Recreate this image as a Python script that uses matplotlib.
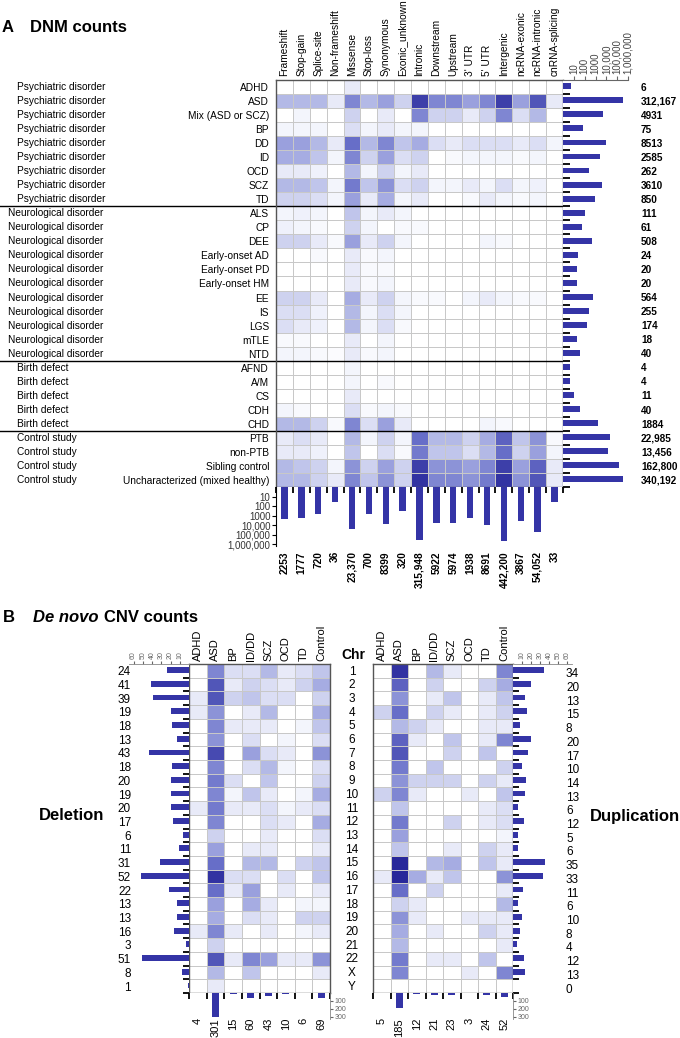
import numpy as np
import matplotlib
matplotlib.use("Agg")
import matplotlib.pyplot as plt
from matplotlib.colors import LinearSegmentedColormap
from matplotlib.transforms import blended_transform_factory as blend

plt.rcParams['font.family'] = ['Liberation Sans', 'DejaVu Sans']

# ---------------- panel A data ----------------
dnm_types = ["Frameshift", "Stop-gain", "Splice-site", "Non-frameshift", "Missense",
             "Stop-loss", "Synonymous", "Exonic_unknown", "Intronic", "Downstream",
             "Upstream", "3' UTR", "5' UTR", "Intergenic", "ncRNA-exonic",
             "ncRNA-intronic", "cnRNA-splicing"]
dnm_groups = (["Psychiatric disorder"] * 9 + ["Neurological disorder"] * 11 +
              ["Birth defect"] * 5 + ["Control study"] * 4)
dnm_phenotypes = ["ADHD", "ASD", "Mix (ASD or SCZ)", "BP", "DD", "ID", "OCD", "SCZ", "TD",
                  "ALS", "CP", "DEE", "Early-onset AD", "Early-onset PD", "Early-onset HM",
                  "EE", "IS", "LGS", "mTLE", "NTD",
                  "AFND", "A/M", "CS", "CDH", "CHD",
                  "PTB", "non-PTB", "Sibling control", "Uncharacterized (mixed healthy)"]
dnm_row_totals = [6, 312167, 4931, 75, 8513, 2585, 262, 3610, 850,
                  111, 61, 508, 24, 20, 20, 564, 255, 174, 18, 40,
                  4, 4, 11, 40, 1884,
                  22985, 13456, 162800, 340192]
dnm_col_totals = [2253, 1777, 720, 36, 23370, 700, 8399, 320, 315948,
                  5922, 5974, 1938, 8691, 442200, 3867, 54052, 33]
# colour level of each cell (0 = none, 9 = most)
dnm_levels = [
    [0, 0, 0, 0, 1, 0, 0, 0, 0, 0, 0, 0, 0, 0, 0, 0, 0],
    [3, 3, 3, 1, 5, 3, 4, 2, 8, 5, 5, 4, 5, 8, 4, 7, 1],
    [0, 0.5, 0, 0, 2, 0, 1, 0, 5, 2, 2, 1, 2, 5, 1.5, 3, 0],
    [0.5, 0.5, 0.5, 0, 1.5, 0.5, 1, 0.5, 0.5, 0, 0, 0, 0, 0, 0, 0, 0],
    [4, 4, 3, 1, 6, 3, 5, 2.5, 3.5, 1.5, 1, 1.5, 1.5, 1.5, 1, 1.5, 0.5],
    [3.5, 3.5, 2.5, 0.5, 5, 2, 4, 1.5, 2, 0, 0.3, 0.5, 0.5, 0.5, 0.3, 0.5, 0],
    [1, 1, 0.7, 0, 3, 0.5, 2, 0.5, 1, 0, 0, 0, 0, 0, 0, 0, 0],
    [3, 3, 2.5, 0.5, 5.5, 2.5, 4.5, 1.5, 2, 0.5, 0.5, 1, 0.5, 1.5, 0.5, 0.7, 0],
    [2, 2, 1.5, 0.5, 4, 1, 3.5, 0.5, 1, 0, 0, 0.3, 1, 0.5, 0.3, 0.5, 0],
    [0.5, 0.7, 0.5, 0, 2.5, 0.5, 1, 0.5, 0, 0, 0, 0, 0, 0, 0, 0, 0],
    [0.7, 0.5, 0.3, 0, 2, 0.5, 0, 0.3, 0.3, 0, 0, 0, 0, 0, 0, 0, 0],
    [2, 2, 1, 0.3, 4, 1, 2, 0.5, 0, 0, 0, 0, 0.5, 0.3, 0, 0, 0],
    [0, 0, 0.3, 0, 1, 0.3, 0.5, 0, 0, 0, 0, 0, 0, 0, 0, 0, 0],
    [0, 0, 0, 0, 1, 0.3, 0.3, 0, 0, 0, 0, 0, 0, 0, 0, 0, 0],
    [0, 0, 0, 0, 1, 0.3, 0.5, 0, 0, 0, 0, 0, 0, 0, 0, 0, 0],
    [2, 2, 1, 0, 3.5, 1, 2, 0.5, 0.3, 0.3, 0, 0.5, 1, 0.5, 0.3, 0.3, 0],
    [1.5, 1.5, 0.7, 0, 3, 0.5, 1.5, 0.5, 0, 0, 0, 0, 0, 0, 0, 0, 0],
    [1.5, 1, 0.7, 0, 3, 0.5, 1.5, 0.3, 0, 0, 0, 0, 0, 0, 0, 0, 0],
    [0.3, 0.3, 0, 0, 1, 0, 0.5, 0, 0, 0, 0, 0, 0, 0, 0, 0, 0],
    [0.5, 0.5, 0.3, 0.2, 1, 0.3, 0.5, 0, 0, 0, 0, 0, 0, 0, 0, 0, 0],
    [0, 0, 0, 0, 0.5, 0, 0, 0, 0, 0, 0, 0, 0, 0, 0, 0, 0],
    [0, 0, 0, 0, 0.5, 0, 0.3, 0, 0, 0, 0, 0, 0, 0, 0, 0, 0],
    [0, 0, 0, 0, 1, 0, 0, 0, 0, 0, 0, 0, 0, 0, 0, 0, 0],
    [0.5, 0.3, 0, 0, 1.5, 0.3, 0.5, 0.3, 0, 0, 0, 0, 0, 0, 0, 0, 0],
    [3, 3, 2, 0.3, 5, 1.5, 4, 1, 0, 0, 0, 0, 0.5, 0.3, 0, 0, 0],
    [1, 1.5, 1, 0, 3, 0.5, 2, 0.5, 6, 3, 3, 2, 3.5, 6.5, 2.5, 4.5, 0.3],
    [1, 1, 0.7, 0, 2.5, 0, 1.5, 0.3, 5.5, 2.5, 2.5, 1.5, 3, 6, 2, 4, 0.5],
    [3, 2.5, 2, 0.5, 4.5, 2, 4, 2, 8, 4.5, 4.5, 4, 5, 8, 4, 6.5, 1],
    [3, 3, 2, 1, 5, 2.5, 4.5, 2, 8.5, 5, 5, 4.5, 5.5, 8.5, 4.5, 7, 1],
]

# ---------------- panel B data ----------------
cnv_cols = ["ADHD", "ASD", "BP", "ID/DD", "SCZ", "OCD", "TD", "Control"]
chroms = [str(i) for i in range(1, 23)] + ["X", "Y"]
del_chr_totals = [24, 41, 39, 19, 18, 13, 43, 18, 20, 19, 20, 17, 6, 11, 31, 52,
                  22, 13, 13, 16, 3, 51, 8, 1]
del_col_totals = [4, 301, 15, 60, 43, 10, 6, 69]
dup_chr_totals = [34, 20, 13, 15, 8, 20, 17, 10, 14, 13, 6, 12, 5, 6, 35, 33,
                  11, 6, 10, 8, 4, 12, 13, 0]
dup_col_totals = [5, 185, 12, 21, 23, 3, 24, 52]
del_levels = [
    [0, 5, 1.5, 1.5, 3, 1, 1.5, 2.5],
    [0, 7, 1, 2, 1.5, 1, 2, 3.5],
    [1, 7, 2, 2.5, 1.5, 1.5, 0, 2],
    [1, 4.5, 0, 1, 3, 0, 0, 3.5],
    [0, 5, 1, 1, 1, 0, 0.5, 2.5],
    [0, 4.5, 0, 1.5, 0, 0.5, 0, 1.5],
    [0, 7.5, 0, 4, 1.5, 1, 0, 4.5],
    [0, 5, 0, 1.5, 3, 0.5, 0, 1.5],
    [0, 5.5, 1.5, 0, 2.5, 0, 0, 2],
    [0, 5, 0.5, 2.5, 1, 0, 0.5, 3.5],
    [1, 5.5, 1, 1, 1.5, 0.5, 1, 1.5],
    [0, 5, 0, 0, 1.5, 1, 0, 3.5],
    [0, 2, 0, 0, 1, 0, 0, 1.5],
    [0, 4, 0, 1, 1, 0, 0, 1],
    [0, 6, 0, 3, 3, 0, 2, 2.5],
    [0, 8.5, 1.5, 1.5, 0, 1.5, 0, 2.5],
    [0, 6, 1, 4, 0, 1, 0, 1],
    [0, 4, 0, 3.5, 1, 0, 0.5, 0.5],
    [0, 3.5, 0, 1.5, 1, 0, 2, 2],
    [1, 5, 1, 0, 1, 0, 0.5, 1],
    [0, 2, 0, 0, 0, 0, 0, 0],
    [0, 7, 1, 5, 4, 1, 1, 4.5],
    [0, 3, 0, 2.5, 0, 0, 0, 1],
    [0, 1, 0, 0, 0, 0, 0, 0],
]
dup_levels = [
    [0, 8.5, 0, 3, 1, 0, 0, 5],
    [0, 6.5, 0, 2, 0, 0, 2, 3.5],
    [0, 4.5, 0, 1, 2.5, 0, 1, 2.5],
    [2, 6, 0, 2, 1, 0, 1, 2],
    [0, 3, 2, 1, 0, 0, 1, 1],
    [0, 6.5, 1, 0, 2.5, 0, 1, 5],
    [0, 7, 0, 0, 2, 0, 2.5, 0],
    [0, 5.5, 0, 2.5, 0, 0, 0, 2],
    [0, 4.5, 2, 2, 2, 0, 2, 1],
    [2, 5, 1, 0, 0, 1, 0, 2.5],
    [0, 2.5, 0, 0, 0, 0, 1, 1.5],
    [0, 5.5, 0, 0, 2, 0, 1, 1.5],
    [0, 4, 0, 0, 0, 0, 0, 0.5],
    [0, 2.5, 0, 0, 1, 0, 2, 1],
    [0, 9, 0, 3, 3.5, 0, 2.5, 1],
    [1, 9, 3.5, 1, 2.5, 0, 0, 4.5],
    [0, 6, 0, 2, 0, 0, 0, 1],
    [0, 2, 1, 0, 0, 0, 0, 3],
    [0, 4.5, 1, 0, 0, 1, 1, 1],
    [0, 3.5, 0, 1, 0, 0, 2, 1],
    [0, 3, 0, 0, 0, 0, 0, 1],
    [0, 5.5, 0, 1, 1, 0, 2.5, 0],
    [0, 5, 0, 0, 0, 1, 0, 5],
    [0, 0, 0, 0, 0, 0, 0, 0],
]

W, H = 680, 1038
BAR = '#3434a6'
GRID = '#c8c8c8'
cmap = LinearSegmentedColormap.from_list(
    'dnm', [(0, '#ffffff'), (0.1, '#eaecf9'), (0.35, '#afb5e5'),
            (0.65, '#6a71ca'), (1, '#28289a')])


def box(x0, y0, x1, y1):
    # pixel box (top-left origin) -> figure fraction
    return [x0 / W, 1 - y1 / H, (x1 - x0) / W, (y1 - y0) / H]


def heat(ax, levels):
    m = np.array(levels)
    ax.pcolormesh(m, cmap=cmap, vmin=0, vmax=9, edgecolors=GRID, linewidth=0.7)
    ax.set_xlim(0, m.shape[1])
    ax.set_ylim(m.shape[0], 0)
    for s in ax.spines.values():
        s.set_color('#555555')
        s.set_linewidth(1)


def fmt(v):
    return f"{v:,}" if v >= 10000 else str(v)


fig = plt.figure(figsize=(6.8, 10.38), dpi=100)

# ============ A ============
fig.text(2 / W, 1 - 28 / H, "A", fontsize=12, fontweight='bold', va='center')
fig.text(30 / W, 1 - 28 / H, "DNM counts", fontsize=12, fontweight='bold', va='center')

nr, nc = len(dnm_phenotypes), len(dnm_types)
axA = fig.add_axes(box(276, 80, 563, 487))
heat(axA, dnm_levels)
axA.set_xticks(np.arange(nc) + 0.5)
axA.set_xticklabels(dnm_types, rotation=90, fontsize=7.3)
axA.xaxis.tick_top()
axA.set_yticks(np.arange(nr) + 0.5)
axA.set_yticklabels(dnm_phenotypes, fontsize=7.3)
axA.tick_params(length=0, pad=3)
axA.tick_params(axis='y', pad=5)
tr = blend(fig.transFigure, axA.transData)
for i, g in enumerate(dnm_groups):
    axA.text(17 / W if g != "Neurological disorder" else 8 / W, i + 0.5, g,
             transform=tr, ha='left', va='center', fontsize=7.3)
for b in [9, 20, 25]:
    axA.axhline(b, xmin=-276 / 287, xmax=1, color='k', lw=1, clip_on=False)

# row totals
axR = fig.add_axes(box(563, 80, 628, 487))
axR.set_xscale('log')
axR.barh(np.arange(nr) + 0.45, dnm_row_totals, height=0.42, color=BAR)
axR.set_xlim(1, 1.0e6)
axR.set_ylim(nr, 0)
axR.set_xticks([10, 100, 1000, 1e4, 1e5, 1e6])
axR.set_xticklabels(['10', '100', '1000', '10,000', '100,000', '1,000,000'],
                    rotation=90, fontsize=7, color='#444444')
axR.xaxis.tick_top()
axR.xaxis.set_minor_locator(matplotlib.ticker.NullLocator())
axR.tick_params(axis='x', length=3, pad=1, color='#666666')
axR.set_yticks(np.arange(1, nr + 1))
axR.tick_params(axis='y', direction='in', length=5, width=1.3, labelleft=False)
for s in ['right', 'bottom', 'left']:
    axR.spines[s].set_visible(False)
axR.spines['top'].set_color('#666666')
trR = blend(fig.transFigure, axR.transData)
for i, v in enumerate(dnm_row_totals):
    axR.text(641 / W, i + 0.55, fmt(v), transform=trR, fontsize=7.2,
             fontweight='bold', va='center')

# column totals
axB = fig.add_axes(box(276, 487, 563, 546))
axB.set_yscale('log')
axB.bar(np.arange(nc) + 0.5, dnm_col_totals, width=0.38, color=BAR)
axB.set_xlim(0, nc)
axB.set_ylim(1.5e6, 1)
axB.set_yticks([10, 100, 1000, 1e4, 1e5, 1e6])
axB.set_yticklabels(['10', '100', '1000', '10,000', '100,000', '1,000,000'],
                    fontsize=7, color='#333333')
axB.yaxis.set_minor_locator(matplotlib.ticker.NullLocator())
axB.tick_params(axis='y', length=3, pad=1)
axB.set_xticks(np.arange(0, nc + 1))
axB.tick_params(axis='x', top=True, bottom=False, direction='in', length=4,
                width=1.3, labelbottom=False)
for s in ['right', 'bottom', 'top']:
    axB.spines[s].set_visible(False)
trB = blend(axB.transData, fig.transFigure)
for i, v in enumerate(dnm_col_totals):
    axB.text(i + 0.5, 1 - 551 / H, fmt(v), transform=trB, rotation=90,
             ha='center', va='top', fontsize=7.3, fontweight='bold')

# ============ B ============
fig.text(3 / W, 1 - 617 / H, "B", fontsize=12, fontweight='bold', va='center')
fig.text(33 / W, 1 - 617 / H, "De novo", fontsize=12, fontweight='bold',
         style='italic', va='center')
fig.text(104 / W, 1 - 617 / H, "CNV counts", fontsize=12, fontweight='bold', va='center')
fig.text(72 / W, 1 - 816 / H, "Deletion", fontsize=12, fontweight='bold',
         ha='center', va='center')
fig.text(635 / W, 1 - 816 / H, "Duplication", fontsize=12, fontweight='bold',
         ha='center', va='center')

nch, ncc = len(chroms), len(cnv_cols)


def cnv_panel(hx0, hx1, bx0, bx1, levels, chr_totals, col_totals, side):
    ax = fig.add_axes(box(hx0, 664, hx1, 993))
    heat(ax, levels)
    ax.set_xticks(np.arange(ncc) + 0.5)
    ax.set_xticklabels(cnv_cols, rotation=90, fontsize=8)
    ax.xaxis.tick_top()
    ax.tick_params(length=0, pad=2)
    ax.set_yticks([])

    axb = fig.add_axes(box(bx0, 664, bx1, 993))
    axb.barh(np.arange(nch) + 0.45, chr_totals, height=0.42, color=BAR)
    axb.set_xlim((65, 0) if side == 'left' else (0, 65))
    axb.set_ylim(nch, 0)
    axb.set_xticks([10, 20, 30, 40, 50, 60])
    axb.xaxis.tick_top()
    axb.tick_params(axis='x', length=2.5, pad=1, labelsize=5,
                    labelrotation=90, labelcolor='#666666', color='#666666')
    axb.set_yticks(np.arange(1, nch + 1))
    if side == 'left':
        axb.yaxis.tick_right()
    axb.tick_params(axis='y', direction='in', length=4, width=1.3,
                    labelleft=False, labelright=False)
    for s in ['bottom', 'left', 'right']:
        axb.spines[s].set_visible(False)
    axb.spines['top'].set_color('#888888')
    axb.spines['top'].set_linewidth(0.6)
    trb = blend(fig.transFigure, axb.transData)
    for i, v in enumerate(chr_totals):
        if side == 'left':
            axb.text(131 / W, i + 0.6, str(v), transform=trb, ha='right',
                     va='center', fontsize=8.5)
        else:
            axb.text(566 / W, i + 0.75, str(v), transform=trb, ha='left',
                     va='center', fontsize=8.5)

    axc = fig.add_axes(box(hx0, 993, hx1, 1019))
    axc.bar(np.arange(ncc) + 0.5, col_totals, width=0.4, color=BAR)
    axc.set_xlim(0, ncc)
    axc.set_ylim(330, 0)
    axc.set_yticks([100, 200, 300])
    axc.yaxis.tick_right()
    axc.tick_params(axis='y', length=2.5, pad=1, labelsize=5,
                    labelcolor='#666666', color='#666666')
    axc.set_xticks(np.arange(0, ncc + 1))
    axc.tick_params(axis='x', top=True, bottom=False, direction='in', length=4,
                    width=1.3, labelbottom=False)
    for s in ['left', 'bottom', 'top']:
        axc.spines[s].set_visible(False)
    axc.spines['right'].set_color('#888888')
    axc.spines['right'].set_linewidth(0.6)
    trc = blend(axc.transData, fig.transFigure)
    for i, v in enumerate(col_totals):
        axc.text(i + 0.5, 1 - 1018 / H, str(v), transform=trc, rotation=90,
                 ha='center', va='top', fontsize=8)
    return ax


axL = cnv_panel(189, 330, 129, 189, del_levels, del_chr_totals, del_col_totals, 'left')
cnv_panel(373, 513, 513, 572, dup_levels, dup_chr_totals, dup_col_totals, 'right')

trC = blend(fig.transFigure, axL.transData)
for i, c in enumerate(chroms):
    axL.text(352 / W, i + 0.55, c, transform=trC, ha='center', va='center', fontsize=8.5)
fig.text(353 / W, 1 - 655 / H, "Chr", fontsize=10, fontweight='bold',
         ha='center', va='center')

fig.savefig("out.png", dpi=100)
